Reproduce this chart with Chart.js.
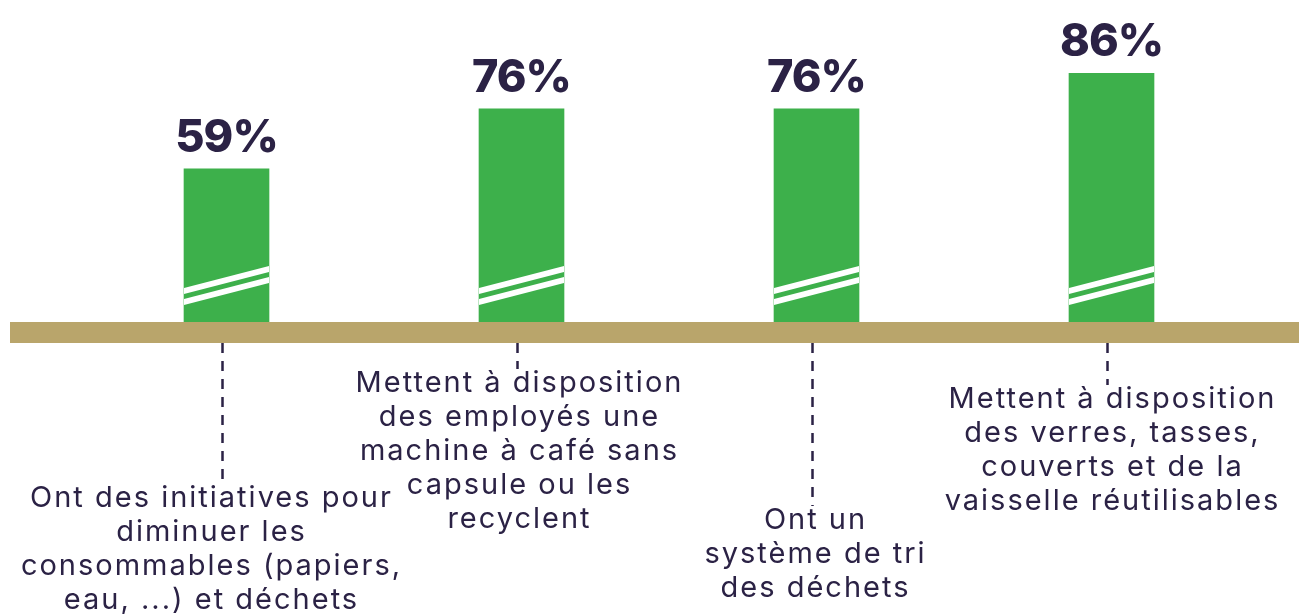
<!DOCTYPE html>
<html>
<head>
<meta charset="utf-8">
<script src="https://cdn.jsdelivr.net/npm/chart.js@4"></script>
<style>
  html, body { margin: 0; padding: 0; background: #fff; }
  #wrap { width: 1299px; height: 614px; position: relative; }
</style>
</head>
<body>
<div id="wrap"><canvas id="chart"></canvas></div>
<script>
// Data
const categories = [
  ['Ont des initiatives pour', 'diminuer les', 'consommables (papiers,', 'eau, ...) et déchets'],
  ['Mettent à disposition', 'des employés une', 'machine à café sans', 'capsule ou les', 'recyclent'],
  ['Ont un', 'système de tri', 'des déchets'],
  ['Mettent à disposition', 'des verres, tasses,', 'couverts et de la', 'vaisselle réutilisables']
];
const values = [59, 76, 76, 86];

// Layout bits for the annotations (not data)
const labelDrop = [155, 40, 177, 56];   // first label line, below the ground band
const labelShift = [-16, -3, -2, 0];
const GREEN = '#3db04b';
const TAN = '#b9a56b';
const INK = '#2b2245';
const FONT = 'Inter, "Noto Sans", sans-serif';

// Ground band, break marks, values and dashed leaders
const decorPlugin = {
  id: 'decor',
  afterDatasetsDraw(chart) {
    const ctx = chart.ctx;
    const area = chart.chartArea;
    const bars = chart.getDatasetMeta(0).data;
    const base = area.bottom;

    ctx.save();

    // break marks on each bar
    ctx.fillStyle = '#fff';
    bars.forEach(bar => {
      const L = bar.x - bar.width / 2;
      const R = bar.x + bar.width / 2;
      [0, 11].forEach(o => {
        ctx.beginPath();
        ctx.moveTo(L, base - 34 + o);
        ctx.lineTo(R, base - 56 + o);
        ctx.lineTo(R, base - 50 + o);
        ctx.lineTo(L, base - 28 + o);
        ctx.closePath();
        ctx.fill();
      });
    });

    // ground band
    ctx.fillStyle = TAN;
    ctx.fillRect(10, base, chart.width - 10, 21);
    const bandBottom = base + 21;

    // value labels
    ctx.fillStyle = INK;
    ctx.textAlign = 'center';
    ctx.textBaseline = 'alphabetic';
    ctx.font = '800 45px ' + FONT;
    ctx.letterSpacing = '-1px';
    bars.forEach((bar, i) => {
      ctx.fillText(values[i] + '%', bar.x, bar.y - 17);
    });

    // dashed leaders and category labels
    ctx.font = '29px ' + FONT;
    ctx.letterSpacing = '2px';
    ctx.textBaseline = 'middle';
    bars.forEach((bar, i) => {
      const firstY = bandBottom + labelDrop[i];
      ctx.strokeStyle = INK;
      ctx.lineWidth = 2.5;
      ctx.setLineDash([10, 8]);
      ctx.beginPath();
      ctx.moveTo(bar.x - 4, bandBottom);
      ctx.lineTo(bar.x - 4, firstY - 14);
      ctx.stroke();
      ctx.setLineDash([]);

      categories[i].forEach((line, j) => {
        ctx.fillText(line, bar.x + labelShift[i] + 1, firstY + j * 34);
      });
    });

    ctx.restore();
  }
};

new Chart(document.getElementById('chart'), {
  type: 'bar',
  data: {
    labels: categories,
    datasets: [{
      data: values,
      backgroundColor: GREEN,
      borderWidth: 0,
      barThickness: 85
    }]
  },
  options: {
    responsive: true,
    maintainAspectRatio: false,
    animation: false,
    layout: {
      padding: { left: 79, right: 40, top: 24, bottom: 292 }
    },
    plugins: {
      legend: { display: false },
      tooltip: { enabled: false }
    },
    scales: {
      x: { display: false },
      y: { display: false, min: 15.6, max: 100 }
    }
  },
  plugins: [decorPlugin]
});
</script>
</body>
</html>
